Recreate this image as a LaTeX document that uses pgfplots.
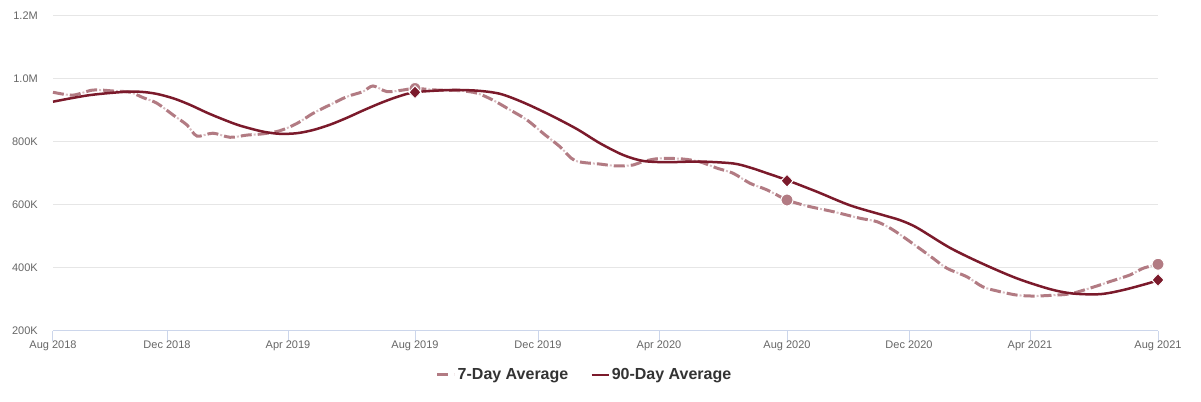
\documentclass[border=0pt]{standalone}
\usepackage{pgfplots}
\usepackage{pgfplotstable}
\pgfplotsset{compat=1.18}
\usepackage{fontspec}
\setmainfont{Liberation Sans}

\definecolor{sevenday}{HTML}{B27B83}
\definecolor{ninetyday}{HTML}{7B1A2B}
\definecolor{axisline}{HTML}{CCD6EB}
\definecolor{gridc}{HTML}{E6E6E6}
\definecolor{ticktext}{HTML}{666666}
\definecolor{legtext}{HTML}{333333}

% x = days-ish from Aug 2018 (axis units), y = thousands
\pgfplotstableread{
x y
0 957
20 948
40 964
60 961
77 957
90 940
104 922
120 885
134 853
144 818
160 827
177 814
194 821
210 825
227 835
244 858
260 890
277 917
294 943
310 959
320 977
334 959
350 964
362 969
384 964
407 962
424 954
440 932
457 901
474 869
490 827
507 784
522 740
547 729
564 723
580 726
590 737
607 747
630 745
647 736
664 716
680 700
697 668
714 647
734 615
754 596
780 578
807 557
824 546
840 520
864 467
880 430
894 398
914 371
930 339
947 324
964 313
980 310
997 312
1017 317
1037 335
1057 356
1077 377
1090 398
1105 411
}\sevendata

\pgfplotstableread{
x y
0 927
37 948
77 959
100 954
120 938
137 917
154 892
170 871
187 851
210 832
227 825
244 827
260 837
277 854
294 876
310 899
327 922
344 942
362 957
397 964
424 962
447 952
470 925
497 885
524 840
547 795
570 758
590 739
614 735
647 737
680 731
697 718
714 700
734 678
764 641
797 598
830 567
847 551
864 527
897 463
930 412
964 366
997 332
1020 318
1047 316
1070 329
1097 352
1105 361
}\ninetydata

\begin{document}
\begin{tikzpicture}
\useasboundingbox (0,0) rectangle (1201bp,402bp);
\begin{axis}[
at={(53bp,71.3bp)}, anchor=south west,
width=1105bp, height=315bp, scale only axis,
xmin=0, xmax=1105, ymin=200, ymax=1200,
clip=false,
axis x line*=bottom, axis y line*=left,
y axis line style={draw=none},
x axis line style={draw=axisline, line width=1bp},
xtick={0,114,235,362,485,606,734,856,977,1105},
xticklabels={Aug 2018,Dec 2018,Apr 2019,Aug 2019,Dec 2019,Apr 2020,Aug 2020,Dec 2020,Apr 2021,Aug 2021},
ytick={200,400,...,1200},
yticklabels={200K,400K,600K,800K,1.0M,1.2M},
x tick style={draw=axisline, line width=1bp},
y tick style={draw=none},
tick align=outside,
major tick length=10bp,
ymajorgrids,
grid style={draw=gridc, line width=1bp},
tick label style={font=\fontsize{11bp}{13bp}\selectfont, text=ticktext},
xticklabel style={anchor=north, inner sep=0pt, yshift=0bp},
yticklabel style={anchor=east, inner sep=0pt, xshift=-5bp},
legend style={at={(axis description cs:0.481,-0.1406)}, anchor=center,
  draw=none, fill=none, inner sep=0pt,
  font=\fontsize{16bp}{19bp}\selectfont\bfseries, text=legtext,
  /tikz/every even column/.append style={column sep=20bp}},
legend columns=2,
legend image code/.code={\draw[#1] (0bp,0bp) -- (17bp,0bp);},
]

\addplot[sevenday, opacity=0.5, line width=2bp, smooth,
  dash pattern=on 0bp off 13bp on 2bp off 2bp, forget plot]
  table[x=x, y=y] {\sevendata};
\addplot[sevenday, line width=3bp, smooth, dash pattern=on 11bp off 6bp]
  table[x=x, y=y] {\sevendata};
\addlegendentry{7-Day Average}

\addplot[only marks, mark=*, mark size=6bp,
  mark options={fill=sevenday, draw=white, line width=1bp}, forget plot]
  coordinates {(362,969) (734,615) (1105,411)};

\addplot[ninetyday, line width=2.5bp, smooth]
  table[x=x, y=y] {\ninetydata};
\addlegendentry{90-Day Average}

\addplot[only marks, mark=diamond*, mark size=6.5bp,
  mark options={fill=ninetyday, draw=white, line width=1bp, xscale=1.25}, forget plot]
  coordinates {(362,957) (734,676) (1105,361)};

\end{axis}
\end{tikzpicture}
\end{document}
